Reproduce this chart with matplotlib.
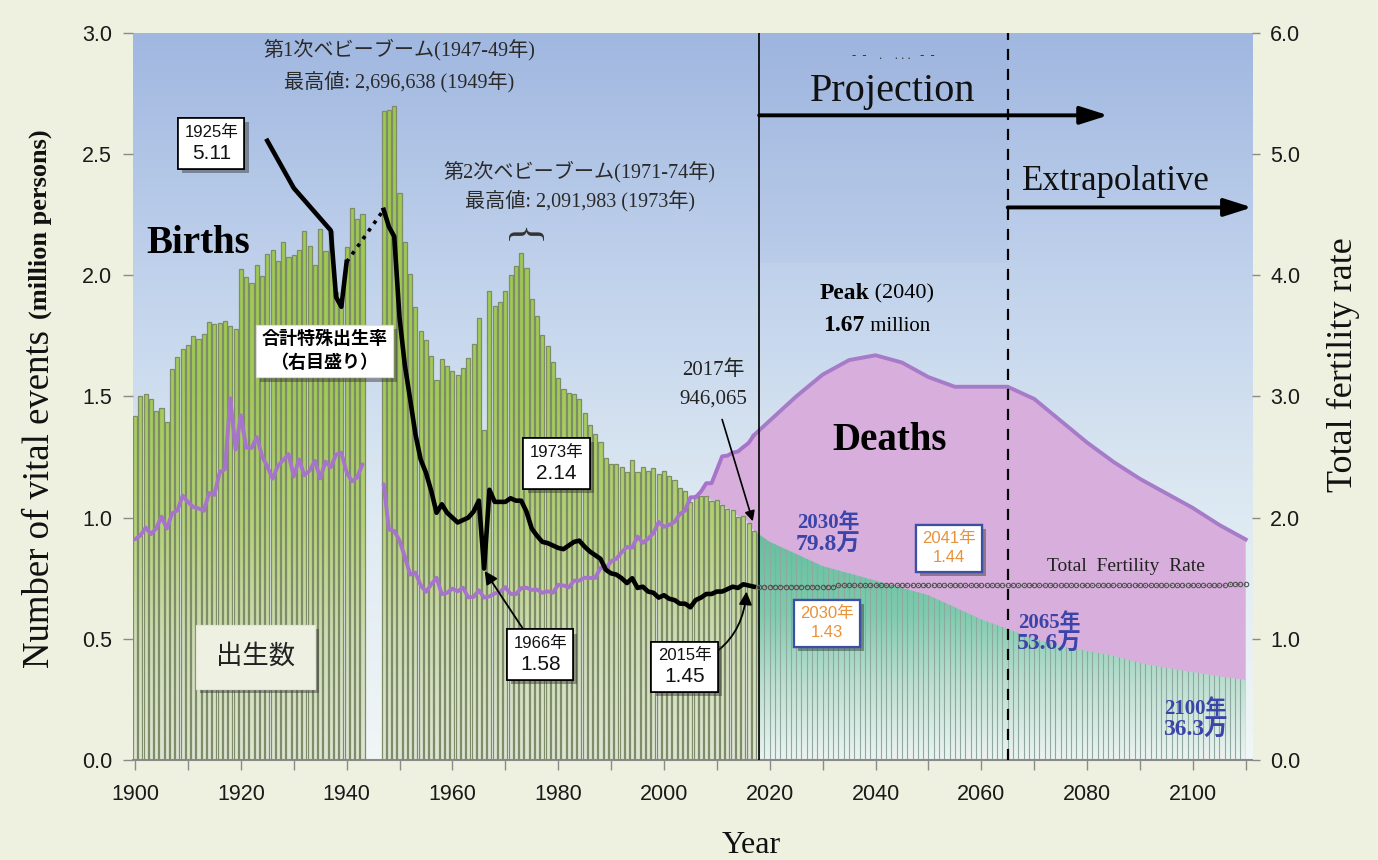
import numpy as np
import matplotlib
matplotlib.use('Agg')
import matplotlib.pyplot as plt
import matplotlib.patheffects as pe
from matplotlib.colors import LinearSegmentedColormap
from matplotlib.patches import Rectangle
from matplotlib.path import Path
from matplotlib.offsetbox import TextArea, VPacker, HPacker, AnnotationBbox

SERIF = ['Liberation Serif', 'Noto Sans CJK JP']
SANS = ['Liberation Sans', 'Noto Sans CJK JP']

# ---- data (millions of persons / total fertility rate) ----
years_a = list(range(1900, 1944))
years_b = list(range(1947, 2018))

births_a = [1.420, 1.501, 1.511, 1.490, 1.441, 1.452, 1.395, 1.615, 1.663, 1.694,
            1.713, 1.748, 1.737, 1.758, 1.808, 1.800, 1.805, 1.813, 1.792, 1.779,
            2.026, 1.991, 1.969, 2.043, 1.998, 2.086, 2.105, 2.061, 2.136, 2.077,
            2.085, 2.103, 2.183, 2.121, 2.044, 2.191, 2.102, 2.181, 1.929, 1.902,
            2.116, 2.277, 2.234, 2.254]
births_b = [2.679, 2.682, 2.697,
            2.338, 2.138, 2.005, 1.868, 1.770, 1.731, 1.665, 1.567, 1.653, 1.626,
            1.606, 1.589, 1.619, 1.660, 1.717, 1.824, 1.361, 1.936, 1.872, 1.890,
            1.934, 2.001, 2.039, 2.092, 2.030, 1.901, 1.833, 1.755, 1.709, 1.643,
            1.577, 1.529, 1.515, 1.509, 1.490, 1.432, 1.383, 1.347, 1.314, 1.247,
            1.222, 1.223, 1.209, 1.188, 1.238, 1.187, 1.207, 1.192, 1.203, 1.178,
            1.191, 1.171, 1.154, 1.124, 1.111, 1.063, 1.093, 1.090, 1.091, 1.070,
            1.071, 1.051, 1.037, 1.030, 1.004, 1.006, 0.977, 0.946]

deaths_a = [0.911, 0.926, 0.959, 0.932, 0.956, 1.004, 0.955, 1.017, 1.030, 1.091,
            1.064, 1.044, 1.038, 1.028, 1.102, 1.094, 1.188, 1.200, 1.493, 1.281,
            1.422, 1.289, 1.287, 1.332, 1.255, 1.211, 1.161, 1.214, 1.237, 1.262,
            1.170, 1.240, 1.175, 1.194, 1.234, 1.162, 1.231, 1.208, 1.260, 1.268,
            1.187, 1.150, 1.166, 1.220]
deaths_b = [1.138, 0.951, 0.945,
            0.905, 0.839, 0.765, 0.773, 0.721, 0.694, 0.725, 0.752, 0.684, 0.690,
            0.707, 0.696, 0.711, 0.671, 0.673, 0.700, 0.670, 0.675, 0.687, 0.694,
            0.713, 0.685, 0.684, 0.709, 0.711, 0.702, 0.703, 0.690, 0.696, 0.690,
            0.723, 0.720, 0.712, 0.740, 0.740, 0.752, 0.751, 0.751, 0.793, 0.789,
            0.820, 0.830, 0.857, 0.879, 0.876, 0.922, 0.896, 0.913, 0.936, 0.982,
            0.962, 0.970, 0.982, 1.015, 1.029, 1.084, 1.084, 1.108, 1.142, 1.142,
            1.197, 1.253, 1.256, 1.268, 1.273, 1.291, 1.308, 1.340]

tfr_years_a = [1925, 1930, 1937, 1938, 1939, 1940]
tfr_a = [5.11, 4.72, 4.37, 3.82, 3.74, 4.11]
tfr_b = [4.54, 4.40, 4.32,
         3.65, 3.26, 2.98, 2.69, 2.48, 2.37, 2.22, 2.04, 2.11, 2.04,
         2.00, 1.96, 1.98, 2.00, 2.05, 2.14, 1.58, 2.23, 2.13, 2.13,
         2.13, 2.16, 2.14, 2.14, 2.05, 1.91, 1.85, 1.80, 1.79, 1.77,
         1.75, 1.74, 1.77, 1.80, 1.81, 1.76, 1.72, 1.69, 1.66, 1.57,
         1.54, 1.53, 1.50, 1.46, 1.50, 1.42, 1.43, 1.39, 1.38, 1.34,
         1.36, 1.33, 1.32, 1.29, 1.29, 1.26, 1.32, 1.34, 1.37, 1.37,
         1.39, 1.39, 1.41, 1.43, 1.42, 1.45, 1.44, 1.43]

proj_years = [2017, 2020, 2025, 2030, 2035, 2040, 2045, 2050, 2055, 2060,
              2065, 2070, 2075, 2080, 2085, 2090, 2095, 2100, 2105, 2110]
proj_births = [0.946, 0.900, 0.850, 0.800, 0.770, 0.740, 0.710, 0.680, 0.630, 0.580,
               0.540, 0.500, 0.470, 0.450, 0.430, 0.400, 0.380, 0.363, 0.345, 0.330]
proj_deaths = [1.340, 1.400, 1.500, 1.590, 1.650, 1.670, 1.640, 1.580, 1.540, 1.540,
               1.540, 1.490, 1.400, 1.310, 1.230, 1.160, 1.100, 1.040, 0.970, 0.910]

proj_tfr_years = list(range(2018, 2111))
proj_tfr = [1.43, 1.43, 1.43, 1.43, 1.43, 1.43, 1.43, 1.43, 1.43, 1.43,
            1.43, 1.43, 1.43, 1.43, 1.43, 1.44, 1.44, 1.44, 1.44, 1.44,
            1.44, 1.44, 1.44, 1.44, 1.44, 1.44, 1.44, 1.44, 1.44, 1.44,
            1.44, 1.44, 1.44, 1.44, 1.44, 1.44, 1.44, 1.44, 1.44, 1.44,
            1.44, 1.44, 1.44, 1.44, 1.44, 1.44, 1.44, 1.44, 1.44, 1.44,
            1.44, 1.44, 1.44, 1.44, 1.44, 1.44, 1.44, 1.44, 1.44, 1.44,
            1.44, 1.44, 1.44, 1.44, 1.44, 1.44, 1.44, 1.44, 1.44, 1.44,
            1.44, 1.44, 1.44, 1.44, 1.44, 1.44, 1.44, 1.44, 1.44, 1.44,
            1.44, 1.44, 1.44, 1.44, 1.44, 1.44, 1.44, 1.44, 1.44, 1.45,
            1.45, 1.45, 1.45]

x_ticks = list(range(1900, 2111, 10))
x_tick_labels = ['1900', '', '1920', '', '1940', '', '1960', '', '1980', '', '2000', '',
                 '2020', '', '2040', '', '2060', '', '2080', '', '2100', '']
left_ticks = [0.0, 0.5, 1.0, 1.5, 2.0, 2.5, 3.0]
left_tick_labels = ['0.0', '0.5', '1.0', '1.5', '2.0', '2.5', '3.0']
right_ticks = [0, 1, 2, 3, 4, 5, 6]
right_tick_labels = ['0.0', '1.0', '2.0', '3.0', '4.0', '5.0', '6.0']

XL = (1899.6, 2111.2)

fig = plt.figure(figsize=(13.78, 8.6), dpi=100)
fig.patch.set_facecolor('#EEF0E0')
ax = fig.add_axes([0.0965, 0.1163, 0.8121, 0.8454])
ax2 = ax.twinx()

grad = np.linspace(0, 1, 256).reshape(-1, 1)


def gradient(stops, zorder, clip=None):
    cmap = LinearSegmentedColormap.from_list('g', stops)
    im = ax.imshow(grad, extent=[XL[0], XL[1], 0, 3], origin='lower', aspect='auto',
                   cmap=cmap, zorder=zorder, interpolation='bilinear')
    if clip is not None:
        im.set_clip_path(clip, ax.transData)
    return im


# background
gradient([(0, '#F1F6F6'), (0.35, '#DDE9F2'), (0.65, '#C2D3EC'), (1, '#A0B7E0')], 0)
ax.add_patch(Rectangle((2018, 2.05), 47, 0.95, fc='#86A0D4', alpha=0.08, lw=0, zorder=0.5))

# births bars (green gradient clipped to bars)
bars = ax.bar(years_a + years_b, births_a + births_b, width=0.78, fc='none',
              ec='#7F8C6A', lw=0.9, zorder=3)
verts, codes = [], []
for b in bars:
    p = b.get_patch_transform().transform_path(b.get_path())
    verts += list(p.vertices)
    codes += list(p.codes)
bar_path = Path(verts, codes)
gradient([(0, '#DFE5D5'), (0.17, '#CEDCB3'), (0.32, '#B4D277'), (0.5, '#A3CB58'), (1, '#9CC74C')],
         2.5, bar_path)

# deaths exceeding births (historical)
ax.fill_between(years_b, births_b, deaths_b,
                where=np.array(deaths_b) > np.array(births_b), interpolate=True,
                fc='#D8AEDC', lw=0, zorder=1.5)

# projection: deaths area and births area
ax.fill_between(proj_years, 0, proj_deaths, fc='#D8AEDC', lw=0, zorder=1.5)
teal = ax.fill_between(proj_years, 0, proj_births, fc='none', lw=0, zorder=2)
teal_path = teal.get_paths()[0]
gradient([(0, '#ECF3F1'), (0.1, '#BFE0D3'), (0.2, '#7FCBAE'), (0.33, '#5EBE9E'), (1, '#5EBE9E')],
         2, teal_path)
stripes = ax.vlines(proj_tfr_years, 0, 3, colors='#8FA9A1', lw=0.8, zorder=2.2)
stripes.set_clip_path(teal_path, ax.transData)

# deaths lines
ax.plot(years_a, deaths_a, color='#A774CB', lw=2.8, zorder=4, solid_capstyle='round')
ax.plot(years_b, deaths_b, color='#A774CB', lw=2.8, zorder=4, solid_capstyle='round')
ax.plot(proj_years, proj_deaths, color='#A67CC9', lw=2.8, zorder=4)

# boundaries
ax.axvline(2018, color='black', lw=1.2, zorder=5)
ax.axvline(2065, color='black', lw=1.6, ls=(0, (5, 4)), zorder=5)

# arrows
ax.annotate('', xy=(2084, 2.66), xytext=(2018, 2.66),
            arrowprops=dict(arrowstyle='-|>,head_length=0.85,head_width=0.27', lw=2.8,
                            color='black', mutation_scale=20, shrinkA=0, shrinkB=0), zorder=6)
ax.annotate('', xy=(XL[1], 2.28), xytext=(2065, 2.28),
            arrowprops=dict(arrowstyle='-|>,head_length=0.85,head_width=0.27', lw=2.8,
                            color='black', mutation_scale=20, shrinkA=0, shrinkB=0), zorder=6)

# axes setup
ax.set_xlim(*XL)
ax.set_ylim(0, 3)
ax2.set_ylim(0, 6)
ax.set_xticks(x_ticks)
ax.set_xticklabels(x_tick_labels)
ax.set_yticks(left_ticks)
ax.set_yticklabels(left_tick_labels)
ax2.set_yticks(right_ticks)
ax2.set_yticklabels(right_tick_labels)
for a in (ax, ax2):
    for s in ('top', 'left', 'right', 'bottom'):
        a.spines[s].set_visible(False)
ax.spines['bottom'].set_visible(True)
ax.spines['bottom'].set_color('#8A8A8A')
ax.spines['bottom'].set_linewidth(1.5)
ax.tick_params(axis='x', direction='out', length=7, width=1, color='#8A8A8A', pad=10,
               labelsize=15.5, labelcolor='#1A1A1A')
ax.tick_params(axis='y', direction='out', length=7, width=1, color='#8A8A8A', pad=8,
               labelsize=15.5, labelcolor='#1A1A1A')
ax2.tick_params(axis='y', direction='out', length=6, width=1, color='#8A8A8A', pad=7,
                labelsize=15.5, labelcolor='#1A1A1A')
for lab in ax.get_xticklabels() + ax.get_yticklabels() + ax2.get_yticklabels():
    lab.set_family(SANS)

# total fertility rate (right scale)
ax2.plot(tfr_years_a, tfr_a, color='black', lw=3.3, zorder=3, solid_joinstyle='round')
ax2.plot([tfr_years_a[-1], years_b[0]], [tfr_a[-1], tfr_b[0]], color='black', lw=2.6,
         ls=(0, (1, 1.6)), zorder=3)
ax2.plot(years_b, tfr_b, color='black', lw=3.3, zorder=3, solid_joinstyle='round')
ax2.plot(proj_tfr_years, proj_tfr, color='#555555', lw=0.8, ls=':', marker='o', ms=3.2,
         mfc='none', mec='#555555', mew=0.8, zorder=3)

T = ax.transData


def txt(x, y, s, **kw):
    kw.setdefault('ha', 'center')
    kw.setdefault('va', 'center')
    kw.setdefault('family', SERIF)
    kw.setdefault('zorder', 7)
    return ax2.text(x, y, s, transform=T, **kw)


shadow = [pe.withSimplePatchShadow(offset=(3, -3), shadow_rgbFace='#333333', alpha=0.45),
          pe.Normal()]


def callout(top, bottom, xy, s1, s2, color='#111111', edge='black', lw=1.2, tip=None, rad=0.0):
    t1 = TextArea(top, textprops=dict(size=s1, color=color, family=SANS))
    t2 = TextArea(bottom, textprops=dict(size=s2, color=color, family=SANS))
    pack = VPacker(children=[t1, t2], align='center', pad=0, sep=3)
    if tip is None:
        ab = AnnotationBbox(pack, xy, xycoords=T, frameon=True, pad=0.45,
                            bboxprops=dict(fc='white', ec=edge, lw=lw), zorder=9)
    else:
        ab = AnnotationBbox(pack, tip, xycoords=ax2.transData, xybox=xy, boxcoords=T,
                            frameon=True, pad=0.45, bboxprops=dict(fc='white', ec=edge, lw=lw),
                            arrowprops=dict(arrowstyle='-|>', color='black', lw=1.3,
                                            mutation_scale=14, shrinkA=0, shrinkB=0,
                                            connectionstyle=f'arc3,rad={rad}'),
                            zorder=9)
    ab.patch.set_path_effects(shadow)
    ax2.add_artist(ab)


def bluetext(top, bottom, xy):
    t1 = TextArea(top, textprops=dict(size=15, color='#3B44A8', family=SERIF, weight='bold'))
    t2 = TextArea(bottom, textprops=dict(size=17, color='#3B44A8', family=SERIF, weight='bold'))
    pack = VPacker(children=[t1, t2], align='center', pad=0, sep=1)
    ab = AnnotationBbox(pack, xy, xycoords=T, frameon=False, pad=0, zorder=8)
    ax2.add_artist(ab)


# annotations
txt(1950.0, 2.93, '第1次ベビーブーム(1947-49年)', size=14.5, color='#2A2A2A')
txt(1950.0, 2.80, '最高値: 2,696,638 (1949年)', size=14.5, color='#2A2A2A')
txt(1984.1, 2.426, '第2次ベビーブーム(1971-74年)', size=14.5, color='#2A2A2A')
txt(1984.1, 2.306, '最高値: 2,091,983 (1973年)', size=14.5, color='#2A2A2A')
txt(1972.8, 2.16, '{', size=31, color='#333333', rotation=-90, family='Liberation Serif',
    weight='light')

txt(1911.9, 2.13, 'Births', size=28, weight='bold', color='black')
txt(2042.6, 1.32, 'Deaths', size=28, weight='bold', color='black')
txt(2043.3, 2.76, 'Projection', size=29, color='#111111')
txt(2043.3, 2.905, '-  -    .    . . .   -  -', size=9, color='#333333')
txt(2085.5, 2.385, 'Extrapolative', size=25, color='#111111')

peak1 = HPacker(children=[TextArea('Peak', textprops=dict(size=17, weight='bold', family=SERIF)),
                          TextArea(' (2040)', textprops=dict(size=16, family=SERIF))],
                align='baseline', pad=0, sep=0)
peak2 = HPacker(children=[TextArea('1.67', textprops=dict(size=17, weight='bold', family=SERIF)),
                          TextArea(' million', textprops=dict(size=15, family=SERIF))],
                align='baseline', pad=0, sep=0)
ax2.add_artist(AnnotationBbox(VPacker(children=[peak1, peak2], align='center', pad=0, sep=8),
                              (2040.2, 1.86), xycoords=T, frameon=False, pad=0, zorder=8))

txt(2009.4, 1.607, '2017年', size=15, color='#222222')
txt(2009.4, 1.491, '946,065', size=15, color='#222222')
ax2.annotate('', xy=(2016.8, 0.985), xycoords=T, xytext=(2011.0, 1.405), textcoords=T,
             arrowprops=dict(arrowstyle='-|>', lw=1.2, color='black', mutation_scale=15,
                             shrinkA=0, shrinkB=0), zorder=7)

txt(2087.3, 0.80, 'Total  Fertility  Rate', size=14, color='#222222')

callout('1925年', '5.11', (1914.4, 2.543), 12, 15)
callout('1973年', '2.14', (1979.7, 1.223), 12, 15)
callout('1966年', '1.58', (1976.6, 0.434), 12, 15, tip=(1966.1, 1.56))
callout('2015年', '1.45', (2003.9, 0.384), 12, 15, tip=(2015.6, 1.39), rad=0.35)
callout('2030年', '1.43', (2030.8, 0.564), 12, 12, color='#E8923A', edge='#3D4FA5', lw=1.6)
callout('2041年', '1.44', (2053.9, 0.874), 12, 12, color='#E8923A', edge='#3D4FA5', lw=1.6)

t = txt(1935.8, 1.686, '合計特殊出生率\n（右目盛り）', size=13, weight='bold', family=SANS,
        color='black', linespacing=1.5,
        bbox=dict(boxstyle='square,pad=0.3', fc='white', ec='#DDDDDD', lw=0.8))
t.get_bbox_patch().set_path_effects(shadow)
t = txt(1922.8, 0.426, '出生数', size=19, family=SANS, color='#222222',
        bbox=dict(boxstyle='square,pad=0.75', fc='#EEF0E2', ec='#E4E6D6', lw=0.8))
t.get_bbox_patch().set_path_effects(shadow)

bluetext('2030年', '79.8万', (2031.1, 0.93))
bluetext('2065年', '53.6万', (2072.8, 0.52))
bluetext('2100年', '36.3万', (2100.5, 0.165))

# axis titles
fig.text(0.029, 0.2233, 'Number of vital events', rotation=90, ha='center', va='bottom',
         size=26.5, family='Liberation Serif', color='#111111')
fig.text(0.029, 0.849, '(million persons)', rotation=90, ha='center', va='top',
         size=19, family='Liberation Serif', weight='bold', color='#111111')
fig.text(0.975, 0.5756, 'Total fertility rate', rotation=90, ha='center', va='center',
         size=26, family='Liberation Serif', color='#111111')
fig.text(0.545, 0.017, 'Year', ha='center', va='center', size=23,
         family='Liberation Serif', color='#111111')

fig.savefig('out.png', dpi=100, facecolor=fig.get_facecolor())
